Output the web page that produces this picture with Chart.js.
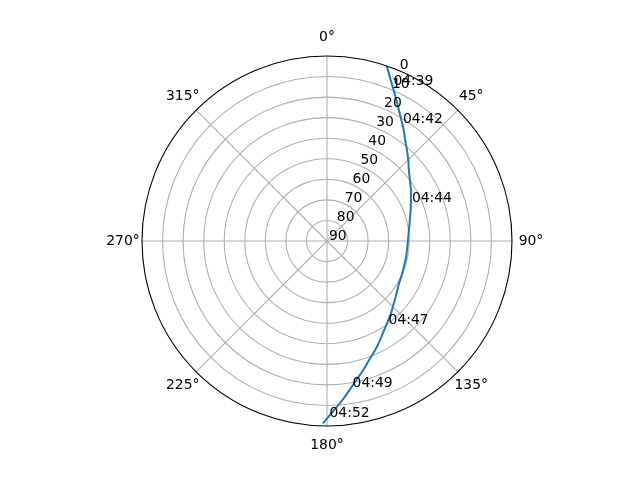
<!DOCTYPE html>
<html>
<head>
<meta charset="utf-8">
<script src="https://cdn.jsdelivr.net/npm/chart.js@4.4.1/dist/chart.umd.min.js"></script>
<style>
  html, body { margin: 0; padding: 0; background: #fff; }
  #wrap { width: 640px; height: 480px; }
</style>
</head>
<body>
<div id="wrap"><canvas id="chart" width="640" height="480"></canvas></div>
<script>
// satellite pass: azimuth (deg, clockwise from north) and elevation (deg)
const trackAz = [18.9, 21.5, 23.7, 26.1, 28.6, 31.4, 34.5, 37.6, 41.1, 44.9, 48.8, 58.4, 64.8, 69.4, 85.4, 99.6, 106.9, 114.1, 121.2, 127.7, 133.7, 139.2, 147.0, 151.6, 155.9, 160.3, 164.1, 167.9, 174.3, 179.5, 181.3];
const trackEl = [0.1, 5.6, 9.5, 13.4, 17.1, 20.7, 24.2, 27.7, 30.9, 34.0, 37.1, 42.1, 44.9, 46.5, 50.2, 50.8, 50.6, 50.1, 49.2, 47.4, 45.3, 42.7, 38.7, 35.5, 32.2, 28.8, 25.0, 21.1, 12.5, 4.6, 1.2];

// time stamps written along the track
const timeLabels = ['04:39', '04:42', '04:44', '04:47', '04:49', '04:52'];
const timeAz = [22.8, 32.3, 64.8, 143.7, 170.4, 179.5];
const timeEl = [7.9, 21.8, 44.9, 40.2, 18.2, 4.6];

const angleTicks = [0, 45, 90, 135, 180, 225, 270, 315];
const radialTicks = [0, 10, 20, 30, 40, 50, 60, 70, 80, 90];

const FONT = '13.9px "DejaVu Sans", sans-serif';
const GRID = '#b0b0b0';

function toXY(az, el) {
    const r = 90 - el;
    const a = az * Math.PI / 180;
    return { x: r * Math.sin(a), y: r * Math.cos(a) };
}

function polarPixel(chart, az, el) {
    const p = toXY(az, el);
    return { x: chart.scales.x.getPixelForValue(p.x), y: chart.scales.y.getPixelForValue(p.y) };
}

const polarGrid = {
    id: 'polarGrid',
    beforeDatasetsDraw(chart) {
        const ctx = chart.ctx;
        const c = polarPixel(chart, 0, 90);
        ctx.save();
        ctx.strokeStyle = GRID;
        ctx.lineWidth = 1.1;
        radialTicks.forEach(r => {
            if (r === 0 || r === 90) return;
            const p = polarPixel(chart, 0, r);
            ctx.beginPath();
            ctx.arc(c.x, c.y, c.y - p.y, 0, Math.PI * 2);
            ctx.stroke();
        });
        angleTicks.forEach(a => {
            const p = polarPixel(chart, a, 0);
            ctx.beginPath();
            ctx.moveTo(c.x, c.y);
            ctx.lineTo(p.x, p.y);
            ctx.stroke();
        });
        ctx.restore();
    },
    afterDatasetsDraw(chart) {
        const ctx = chart.ctx;
        const c = polarPixel(chart, 0, 90);
        const R = c.y - polarPixel(chart, 0, 0).y;
        ctx.save();
        // outer spine
        ctx.strokeStyle = '#000';
        ctx.lineWidth = 1.1;
        ctx.beginPath();
        ctx.arc(c.x, c.y, R, 0, Math.PI * 2);
        ctx.stroke();

        ctx.fillStyle = '#000';
        ctx.font = FONT;
        // angle labels
        ctx.textAlign = 'center';
        ctx.textBaseline = 'middle';
        angleTicks.forEach(a => {
            const t = a * Math.PI / 180;
            ctx.fillText(a + '°', c.x + (R + 19) * Math.sin(t), c.y - (R + 19) * Math.cos(t));
        });
        // radial labels along 22.5 deg
        ctx.textAlign = 'left';
        ctx.textBaseline = 'alphabetic';
        radialTicks.forEach(r => {
            const p = polarPixel(chart, 22.5, r);
            ctx.fillText(String(r), p.x + 2, p.y - 1.5);
        });
        // time stamps
        timeLabels.forEach((lab, i) => {
            const p = polarPixel(chart, timeAz[i], timeEl[i]);
            ctx.fillText(lab, p.x + 1, p.y);
        });
        ctx.restore();
    }
};

new Chart(document.getElementById('chart'), {
    type: 'scatter',
    data: {
        datasets: [{
            data: trackAz.map((az, i) => toXY(az, trackEl[i])),
            showLine: true,
            borderColor: '#1f77b4',
            borderWidth: 2,
            pointRadius: 0,
            tension: 0.3,
            clip: false
        }]
    },
    options: {
        responsive: false,
        animation: false,
        layout: { padding: { left: 142, right: 128, top: 56, bottom: 54 } },
        plugins: { legend: { display: false }, tooltip: { enabled: false } },
        scales: {
            x: { display: false, min: -90, max: 90 },
            y: { display: false, min: -90, max: 90 }
        }
    },
    plugins: [polarGrid]
});
</script>
</body>
</html>
